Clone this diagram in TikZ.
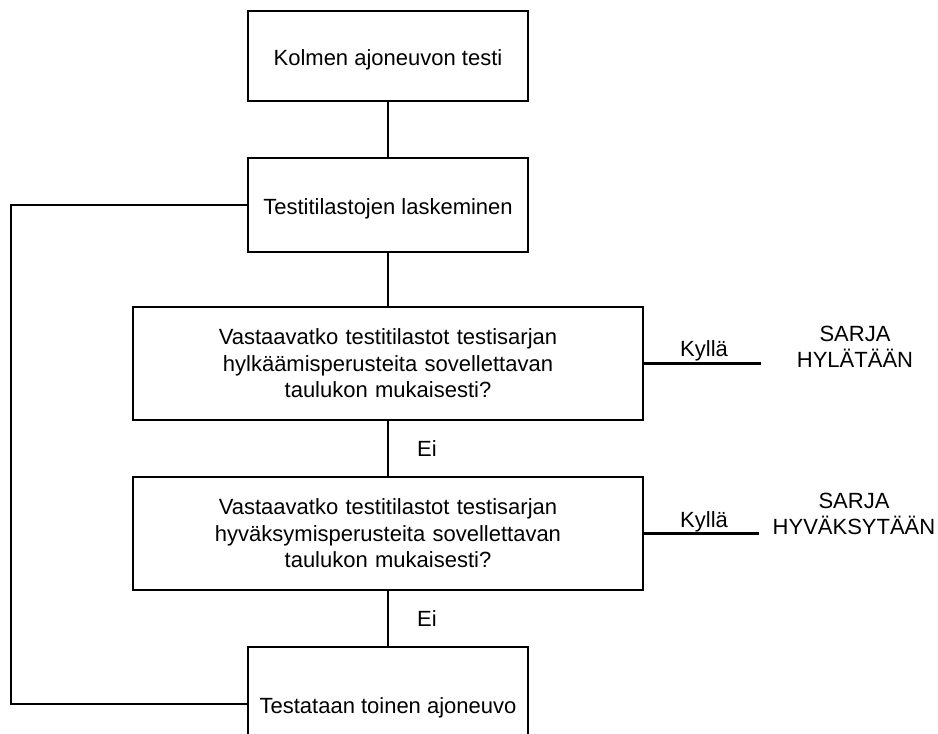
\documentclass[tikz,border=0pt]{standalone}
\usepackage{fontspec}
\setmainfont{Liberation Sans}
\begin{document}
\begin{tikzpicture}[x=1pt,y=-1pt,
  every node/.style={font=\fontsize{22}{26.5}\selectfont, inner sep=0pt},
  box/.style={draw, line width=2.6pt, minimum width=280pt, minimum height=90pt, text height=18pt, text depth=0pt},
  dbox/.style={draw, line width=2.6pt, minimum width=510pt, minimum height=113pt, text width=420pt, align=center},
  conn/.style={line width=2.6pt},
  lbl/.style={anchor=base west},
  res/.style={anchor=base, text width=170pt, align=center}]
\useasboundingbox (0,0) rectangle (938,734);
\clip (0,0) rectangle (938,734);
\node[box] (A) at (388,56) {Kolmen ajoneuvon testi};
\node[box, minimum height=94pt] (B) at (388,205) {Testitilastojen laskeminen};
\node[dbox] (D1) at (388,363.5) {Vastaavatko testitilastot testisarjan\\hylkäämisperusteita sovellettavan\\taulukon mukaisesti?};
\node[dbox] (D2) at (388,533.5) {Vastaavatko testitilastot testisarjan\\hyväksymisperusteita sovellettavan\\taulukon mukaisesti?};
\node[box, minimum height=114pt] (E) at (388,704) {Testataan toinen ajoneuvo};
\draw[conn] (A) -- (B);
\draw[conn] (B) -- (D1);
\draw[conn] (D1) -- (D2);
\draw[conn] (D2) -- (E);
\coordinate (L) at (11,205);
\draw[conn] (B.west) -- (L) |- (E.west);
\coordinate (Y1) at (761,363.5);
\coordinate (Y2) at (759,533.5);
\draw[conn] (D1.east) -- (Y1);
\draw[conn] (D2.east) -- (Y2);
\node[lbl] (ei1) at (417,456) {Ei};
\node[lbl] (ei2) at (417,626) {Ei};
\node[lbl] (k1) at (680,356) {Kyllä};
\node[lbl] (k2) at (680,527) {Kyllä};
\node[res] (r1) at (855,341) {SARJA\\HYLÄTÄÄN};
\node[res] (r2) at (854,508) {SARJA\\HYVÄKSYTÄÄN};
\end{tikzpicture}
\end{document}
